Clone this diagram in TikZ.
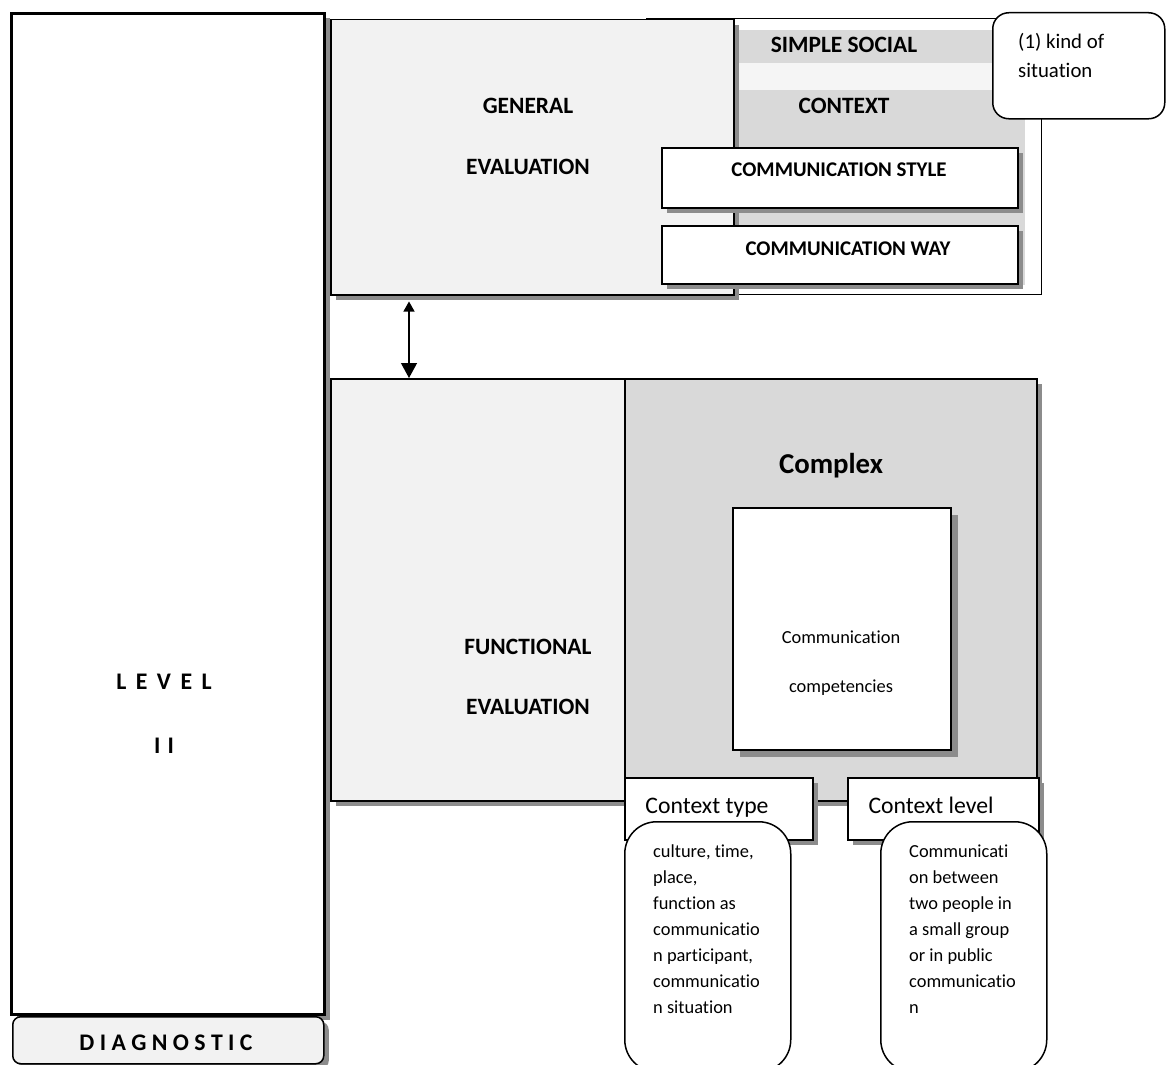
\documentclass[tikz,border=0pt]{standalone}
\usepackage{fontspec}
\setmainfont{Carlito}[Ligatures={NoCommon,NoContextual}]
\usetikzlibrary{shadows,arrows.meta,calc}
\definecolor{paleGray}{HTML}{F2F2F2}
\definecolor{midGray}{HTML}{D9D9D9}
\definecolor{shadowGray}{HTML}{8C8C8C}

\begin{document}
\begin{tikzpicture}[x=1pt, y=-1pt,
  frame/.style={draw, line width=1.5pt, inner sep=0pt, anchor=north west},
  drop/.style={drop shadow={shadow xshift=5pt, shadow yshift=-5pt, fill=shadowGray, opacity=1}},
  hdr/.style={font=\fontsize{23.4}{28}\selectfont\bfseries},
  caps/.style={font=\fontsize{20.9}{25}\selectfont\bfseries},
  lbl/.style={font=\fontsize{23.7}{28}\selectfont, anchor=base},
  small/.style={font=\fontsize{18.4}{26}\selectfont, align=left, anchor=north west, inner sep=0pt}]
  \useasboundingbox (0,0) rectangle (1170,1065);

  % left column
  \node[frame, line width=3pt, fill=white, minimum width=313pt, minimum height=1001pt, drop] (level) at (10,12) {};
  \node[font=\fontsize{23.8}{28}\selectfont\bfseries] (lvltxt) at (164,682) {L\hspace{.4em}E\hspace{.4em}V\hspace{.4em}E\hspace{.4em}L};
  \node[font=\fontsize{23.8}{28}\selectfont\bfseries] (lvlnum) at (164,746) {I\hspace{.3em}I};
  \node[frame, rounded corners=8pt, fill=paleGray, minimum width=311pt, minimum height=47pt, drop] (diag) at (12,1016) {};
  \node[font=\fontsize{23.8}{28}\selectfont\bfseries] (diagtxt) at (166,1043) {D I A G N O S T I C};

  % general evaluation
  \node[frame, line width=1.2pt, fill=white, minimum width=395pt, minimum height=276pt] (outer) at (646,18) {};
  \node[fill=midGray, inner sep=0pt, anchor=north west, minimum width=292pt, minimum height=255pt] (ctx) at (733,30) {};
  \fill[paleGray!80!white] ($(ctx.north west)+(0,33)$) rectangle ($(ctx.north east)+(0,60)$);
  \node[hdr] (simple) at (844,45) {SIMPLE SOCIAL};
  \node[hdr] (context) at (844,106) {CONTEXT};
  \node[frame, fill=paleGray, minimum width=403pt, minimum height=275pt, drop] (general) at (330,19) {};
  \node[hdr] (gen1) at (528,106) {GENERAL};
  \node[hdr] (gen2) at (528,167) {EVALUATION};
  \node[frame, fill=white, minimum width=356pt, minimum height=60pt, drop] (style) at (661,147) {};
  \node[caps] (styletxt) at (839,170) {COMMUNICATION STYLE};
  \node[frame, fill=white, minimum width=356pt, minimum height=58pt, drop] (way) at (661,225) {};
  \node[caps] (waytxt) at (848,249) {COMMUNICATION WAY};
  \node[frame, rounded corners=16pt, fill=white, minimum width=172pt, minimum height=106pt] (kind) at (992,12) {};
  \node[font=\fontsize{20.8}{29}\selectfont, align=left, anchor=north west, inner sep=0pt] (kindtxt) at (1018,33) {(1) kind of\\situation};

  % functional evaluation
  \node[frame, fill=paleGray, minimum width=295pt, minimum height=422pt, drop] (functional) at (330,378) {};
  \node[hdr] (fun1) at (528,647) {FUNCTIONAL};
  \node[hdr] (fun2) at (528,707) {EVALUATION};
  \node[frame, fill=midGray, minimum width=412pt, minimum height=422pt, drop] (complex) at (624,378) {};
  \node[font=\fontsize{28.8}{34}\selectfont\bfseries] (cpxtxt) at (831,466) {Complex};
  \node[frame, fill=white, minimum width=218pt, minimum height=242pt,
        drop shadow={shadow xshift=7pt, shadow yshift=-7pt, fill=shadowGray, opacity=1}] (comp) at (732,507) {};
  \node[font=\fontsize{18.4}{22}\selectfont] (comp1) at (841,637) {Communication};
  \node[font=\fontsize{18.4}{22}\selectfont] (comp2) at (841,688) {competencies};

  % context boxes
  \node[frame, fill=white, minimum width=188pt, minimum height=62pt, drop] (ctype) at (624,777) {};
  \node[lbl] (ctypetxt) at (707,813) {Context type};
  \node[frame, fill=white, minimum width=191pt, minimum height=62pt, drop] (clevel) at (847,777) {};
  \node[lbl] (cleveltxt) at (931,813) {Context level};
  \node[frame, rounded corners=32pt, fill=white, minimum width=166pt, minimum height=250pt] (typebox) at (624,821) {};
  \node[small] (typetxt) at (653,845) {culture, time,\\place,\\function as\\communicatio\\n participant,\\communicatio\\n situation};
  \node[frame, rounded corners=32pt, fill=white, minimum width=166pt, minimum height=250pt] (levelbox) at (880,821) {};
  \node[small] (leveltxt) at (909,845) {Communicati\\on between\\two people in\\a small group\\or in public\\communicatio\\n};

  % link
  \coordinate (arrx) at (409,0);
  \draw[{Triangle[width=11pt,length=10pt]}-{Triangle[width=16pt,length=15pt]}, line width=1.2pt, shorten <=6pt]
    (general.south -| arrx) -- (functional.north -| arrx);
\end{tikzpicture}
\end{document}
